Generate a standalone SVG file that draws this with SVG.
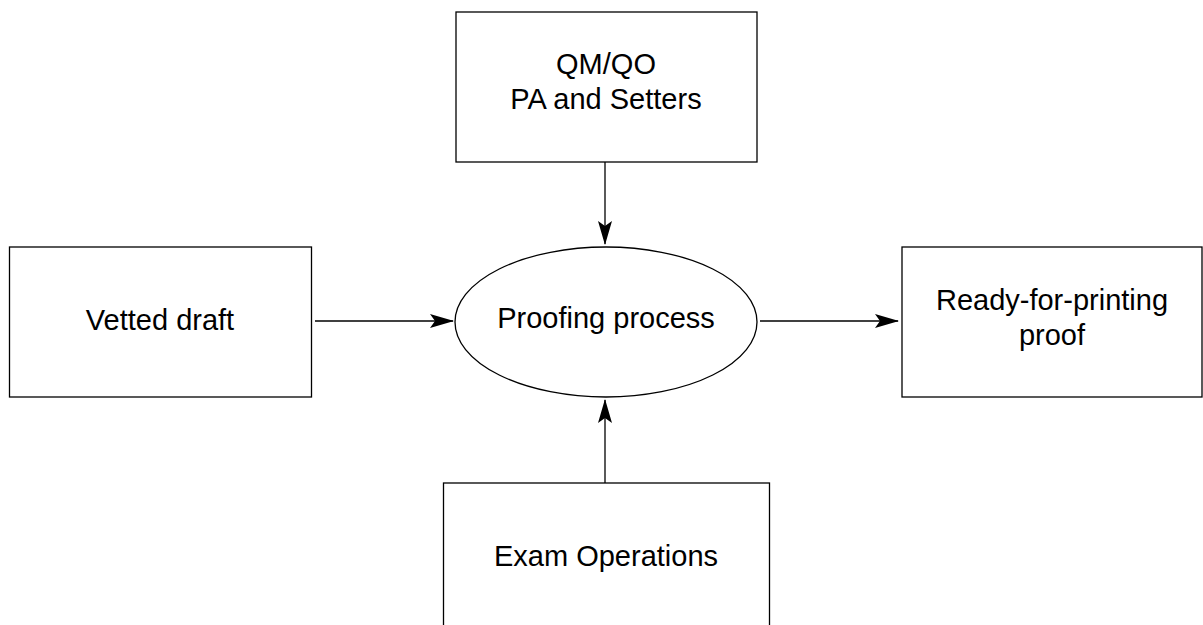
<svg xmlns="http://www.w3.org/2000/svg" width="1203" height="625" viewBox="0 0 1203 625">
<style>
.box{fill:#fff;stroke:#000;stroke-width:1.3}
.lbl{font-family:"Liberation Sans",Arial,sans-serif;font-size:29px;fill:#000;text-anchor:middle}
.conn{fill:none;stroke:#000;stroke-width:1.3}
</style>
<defs>
<marker id="arr" viewBox="0 0 24 14" refX="23" refY="7" markerWidth="24" markerHeight="14" markerUnits="userSpaceOnUse" orient="auto">
<path d="M0,0 L24,7 L0,14 L5,7 Z" fill="#000"/>
</marker>
</defs>
<rect width="1203" height="625" fill="#fff"/>
<g id="connectors">
<line class="conn" x1="605" y1="162" x2="605" y2="244" marker-end="url(#arr)"/>
<line class="conn" x1="315" y1="321" x2="453" y2="321" marker-end="url(#arr)"/>
<line class="conn" x1="760" y1="321" x2="898" y2="321" marker-end="url(#arr)"/>
<line class="conn" x1="605" y1="483" x2="605" y2="400" marker-end="url(#arr)"/>
</g>
<g id="top">
<rect class="box" x="456" y="12" width="301" height="150"/>
<text class="lbl" x="606" y="74">QM/QO</text>
<text class="lbl" x="606" y="109">PA and Setters</text>
</g>
<g id="left">
<rect class="box" x="9.5" y="247" width="302" height="150"/>
<text class="lbl" x="160" y="330">Vetted draft</text>
</g>
<g id="process">
<ellipse class="box" cx="606" cy="322" rx="151" ry="75"/>
<text class="lbl" x="606" y="328">Proofing process</text>
</g>
<g id="right">
<rect class="box" x="902" y="247" width="300" height="150"/>
<text class="lbl" x="1052" y="310">Ready-for-printing</text>
<text class="lbl" x="1052" y="345">proof</text>
</g>
<g id="bottom">
<rect class="box" x="443.5" y="483" width="326" height="160"/>
<text class="lbl" x="606" y="566">Exam Operations</text>
</g>
</svg>
